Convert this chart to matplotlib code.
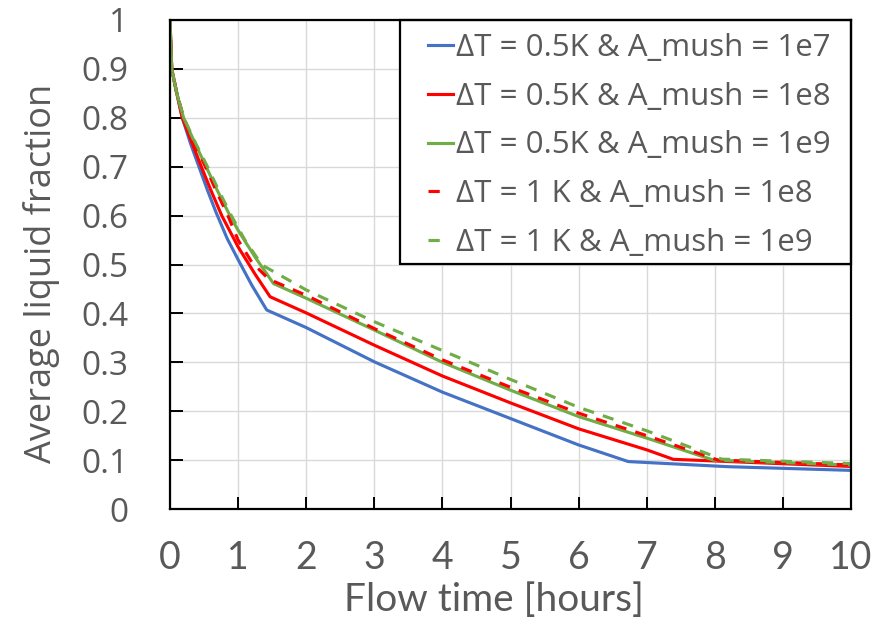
import matplotlib
matplotlib.use("Agg")
import matplotlib.pyplot as plt
import numpy as np
from matplotlib.legend_handler import HandlerLine2D
from matplotlib.patches import Rectangle

# ---- data ----
blue_x = [0, 0.025, 0.1, 0.18, 0.3, 0.43, 0.55, 0.675, 0.84, 1.0, 1.2, 1.42, 2, 3, 4, 5, 6, 6.73, 8.2, 10]
blue_y = [1, 0.9, 0.85, 0.8, 0.748, 0.698, 0.652, 0.607, 0.553, 0.51, 0.458, 0.407, 0.371, 0.301, 0.239, 0.185, 0.131, 0.097, 0.0865, 0.079]

red_x = [0, 0.025, 0.1, 0.18, 0.32, 0.46, 0.6, 0.76, 1.0, 1.25, 1.47, 2, 3, 4, 5, 6, 7, 7.39, 10]
red_y = [1, 0.9, 0.85, 0.8, 0.75, 0.70, 0.652, 0.60, 0.536, 0.48, 0.434, 0.401, 0.335, 0.272, 0.217, 0.164, 0.121, 0.1016, 0.087]

green_x = [0, 0.025, 0.1, 0.2, 0.36, 0.53, 0.7, 0.88, 1.0, 1.25, 1.52, 2, 3, 4, 5, 6, 7, 7.98, 10]
green_y = [1, 0.9, 0.85, 0.8, 0.75, 0.70, 0.65, 0.60, 0.57, 0.515, 0.461, 0.431, 0.366, 0.300, 0.243, 0.189, 0.145, 0.100, 0.090]

red_dash_x = [0, 0.025, 0.1, 0.2, 0.35, 0.52, 0.68, 0.85, 1.0, 1.2, 1.45, 2, 3, 4, 5, 6, 7, 8.05, 10]
red_dash_y = [1, 0.9, 0.85, 0.8, 0.75, 0.70, 0.65, 0.60, 0.55, 0.505, 0.47, 0.437, 0.369, 0.305, 0.249, 0.196, 0.15, 0.100, 0.090]

green_dash_x = [0, 0.025, 0.1, 0.2, 0.37, 0.55, 0.72, 0.9, 1.1, 1.35, 2, 3, 4, 5, 6, 7, 8.1, 10]
green_dash_y = [1, 0.9, 0.85, 0.8, 0.75, 0.70, 0.65, 0.60, 0.55, 0.499, 0.448, 0.383, 0.324, 0.265, 0.208, 0.16, 0.102, 0.093]

labels = ["ΔT = 0.5K & A_mush = 1e7",
          "ΔT = 0.5K & A_mush = 1e8",
          "ΔT = 0.5K & A_mush = 1e9",
          "ΔT = 1 K & A_mush = 1e8",
          "ΔT = 1 K & A_mush = 1e9"]

x_ticks = list(range(0, 11))
y_ticks = [0, 0.1, 0.2, 0.3, 0.4, 0.5, 0.6, 0.7, 0.8, 0.9, 1]
y_tick_labels = ["0", "0.1", "0.2", "0.3", "0.4", "0.5", "0.6", "0.7", "0.8", "0.9", "1"]

BLUE = "#4472C4"
RED = "#FF0000"
GREEN = "#70AD47"
GRAY = "#595959"

W, H = 887, 627
L, R, B, T = 170, 851, 509, 20


class ShortLine(HandlerLine2D):
    def __init__(self, frac=1.0, **kw):
        super().__init__(**kw)
        self.frac = frac

    def get_xdata(self, legend, xdescent, ydescent, width, height, fontsize):
        x0 = -xdescent
        x1 = -xdescent + width * self.frac
        return np.array([x0, x1]), np.array([x0, x1])


fig = plt.figure(figsize=(W / 100, H / 100), dpi=100)
ax = fig.add_axes([L / W, 1 - B / H, (R - L) / W, (B - T) / H])

lw = 2.25
h1, = ax.plot(blue_x, blue_y, color=BLUE, lw=lw, label=labels[0], zorder=3)
h2, = ax.plot(red_x, red_y, color=RED, lw=lw, label=labels[1], zorder=3)
h3, = ax.plot(green_x, green_y, color=GREEN, lw=lw, label=labels[2], zorder=3)
h4, = ax.plot(red_dash_x, red_dash_y, color=RED, lw=lw, dashes=(3.6, 3.0), label=labels[3], zorder=4)
h5, = ax.plot(green_dash_x, green_dash_y, color=GREEN, lw=lw, dashes=(3.6, 3.0), label=labels[4], zorder=4)

ax.set_xlim(0, 10)
ax.set_ylim(0, 1)
ax.set_xticks(x_ticks)
ax.set_yticks(y_ticks)
ax.set_yticklabels(y_tick_labels)
ax.grid(True, color="#D9D9D9", lw=1.0, zorder=0)
ax.set_axisbelow(True)

for s in ax.spines.values():
    s.set_color("black")
    s.set_linewidth(1.6)
    s.set_zorder(6)

ax.tick_params(axis="both", direction="in", length=9, width=1.4, color="black")
ax.tick_params(axis="x", pad=22, labelsize=27, labelcolor=GRAY)
ax.tick_params(axis="y", pad=30, labelsize=24, labelcolor=GRAY)
for t in ax.get_xticklabels():
    t.set_family("Lato")
for t in ax.get_yticklabels():
    t.set_family("Open Sans")

ax.set_xlabel("Flow time [hours]", fontsize=28, family="Lato", color=GRAY)
ax.xaxis.set_label_coords((493.5 - L) / (R - L), -(582 - B) / (B - T))
ax.set_ylabel("Average liquid fraction", fontsize=26, family="Open Sans", color=GRAY)
ax.yaxis.set_label_coords((60 - L) / (R - L), (B - 273.5) / (B - T))

# legend frame drawn separately (exact box)
box = Rectangle(((400 - L) / (R - L), (B - 264) / (B - T)),
                (R - 400) / (R - L), (264 - T) / (B - T),
                transform=ax.transAxes, facecolor="white", edgecolor="black",
                lw=1.6, zorder=5, clip_on=False)
ax.add_patch(box)

leg = ax.legend(handles=[h1, h2, h3, h4, h5],
                loc="upper left", bbox_to_anchor=((428 - L) / (R - L), (B - 33) / (B - T)),
                borderaxespad=0, borderpad=0,
                prop={"family": "Open Sans", "size": 22.5}, frameon=False,
                handlelength=0.8, handletextpad=0.1, labelspacing=0.6,
                handler_map={h1: ShortLine(1.0), h2: ShortLine(1.0), h3: ShortLine(1.0),
                             h4: ShortLine(0.5), h5: ShortLine(0.5)})
leg.set_zorder(7)
for t in leg.get_texts():
    t.set_color(GRAY)

fig.savefig("out.png", dpi=100)
